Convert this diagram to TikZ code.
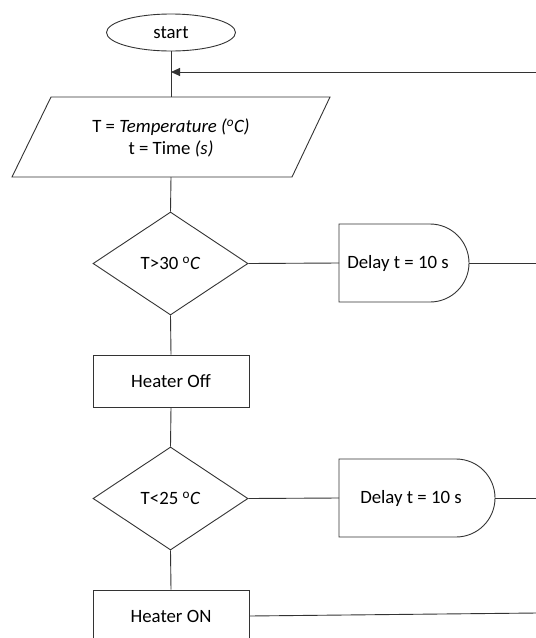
\documentclass[tikz,border=0pt]{standalone}
\usepackage{fontspec}
\setmainfont{Carlito}
\usetikzlibrary{shapes.geometric,arrows.meta}
\begin{document}
\begin{tikzpicture}[x=1pt,y=-1pt,
  ln/.style={draw=black!80,line width=0.9pt},
  txt/.style={font=\fontsize{18.8pt}{22pt}\selectfont,align=center,inner sep=0pt},
  dec/.style={ln,diamond,aspect=1.5,minimum width=155pt,minimum height=103pt,txt},
  proc/.style={ln,rectangle,minimum width=156pt,minimum height=52pt,txt},
  term/.style={ln,ellipse,minimum width=129pt,minimum height=37pt,txt}]
\useasboundingbox (0,0) rectangle (536,638);
\clip (0,0) rectangle (536,638);
% nodes
\node[term] (start) at (171,32.5) {start};
\node[txt] (io) at (171,138) {T = \textit{Temperature (\textsuperscript{o}C)}\\t = Time \textit{(s)}};
\coordinate (ptl) at (51,97);
\coordinate (ptr) at (330,97);
\coordinate (pbr) at (292,177);
\coordinate (pbl) at (12,177);
\draw[ln] (ptl) -- (ptr) -- (pbr) -- (pbl) -- cycle;
\coordinate (iotop) at (171,97);
\coordinate (iobot) at (171,177);
\node[dec] (d1) at (170.5,263.5) {T>30 \textsuperscript{o}\textit{C}};
\node[proc] (off) at (171,381) {Heater Off};
\node[dec] (d2) at (170.5,498.5) {T<25 \textsuperscript{o}\textit{C}};
\node[proc] (on) at (171,616) {Heater ON};
% delay 1
\node[txt] (dl1) at (398,263) {Delay t = 10 s};
\draw[ln] (339,224) -- (430,224) arc[start angle=-90,end angle=90,radius=39] -- (339,302) -- cycle;
\coordinate (dl1w) at (339,263);
\coordinate (dl1e) at (469,263);
% delay 2
\node[txt] (dl2) at (411,498) {Delay t = 10 s};
\draw[ln] (339,459) -- (456,459) arc[start angle=-90,end angle=90,radius=39] -- (339,537) -- cycle;
\coordinate (dl2w) at (339,498);
\coordinate (dl2e) at (495,498);
% loop
\coordinate (loopR) at (537,72);
\coordinate (loopL) at (171,72);
\coordinate (r1) at (537,263);
\coordinate (r2) at (537,498);
\coordinate (r3) at (537,613);
% connectors
\draw[ln] (start.south) -- (iotop);
\draw[ln] (iobot) -- (d1.north);
\draw[ln] (d1.south) -- (off.north);
\draw[ln] (off.south) -- (d2.north);
\draw[ln] (d2.south) -- (on.north);
\draw[ln,-{Triangle[length=9pt,width=8pt]}] (loopR) -- (loopL);
\draw[ln] (d1.east) -- (dl1w);
\draw[ln] (dl1e) -- (r1);
\draw[ln] (d2.east) -- (dl2w);
\draw[ln] (dl2e) -- (r2);
\draw[ln] (on.east) -- (r3);
\end{tikzpicture}
\end{document}
